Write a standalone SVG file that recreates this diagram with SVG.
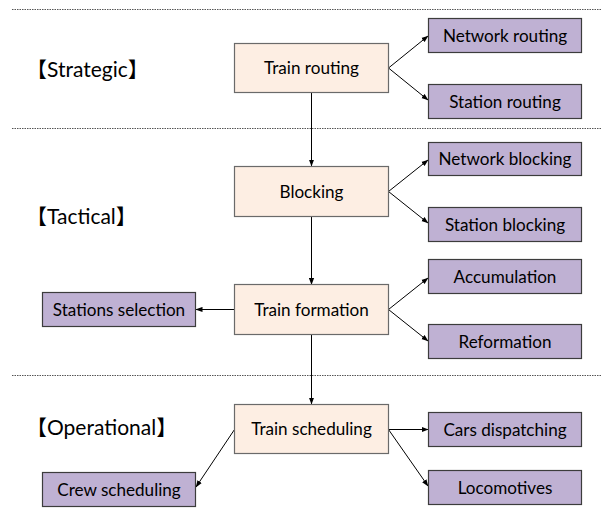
<svg xmlns="http://www.w3.org/2000/svg" width="604" height="513" viewBox="0 0 604 513">
<defs>
<marker id="ah" markerWidth="7" markerHeight="6" refX="6.5" refY="3" orient="auto" markerUnits="userSpaceOnUse">
<path d="M0,0.4 L7,3 L0,5.6 Z" fill="#000"/>
</marker>
<style>
.main rect{fill:#FDEEE3;stroke:#6A6A6A;stroke-width:1.2}
.sub rect{fill:#BFB1D3;stroke:#3C3C3C;stroke-width:1.2}
text{font-family:Lato,"Noto Sans CJK SC",sans-serif;fill:#000}
.t{font-size:17.1px;text-anchor:middle}
.lab{font-size:21px}
.sep{stroke:#555;stroke-width:1;stroke-dasharray:1.5 1;fill:none}
.c line{stroke:#000;stroke-width:1;marker-end:url(#ah)}
</style>
</defs>
<rect width="604" height="513" fill="#fff"/>
<g id="separators">
<line class="sep" x1="12" y1="9.5" x2="602" y2="9.5"/>
<line class="sep" x1="12" y1="128.5" x2="602" y2="128.5"/>
<line class="sep" x1="12" y1="375.5" x2="602" y2="375.5"/>
</g>
<g id="labels">
<text class="lab" x="26" y="77">【Strategic】</text>
<text class="lab" x="26" y="224">【Tactical】</text>
<text class="lab" x="26" y="435">【Operational】</text>
</g>
<g class="c" id="connectors">
<line x1="311.5" y1="93" x2="311.5" y2="166"/>
<line x1="311.5" y1="216.5" x2="311.5" y2="284.5"/>
<line x1="311.5" y1="334.5" x2="311.5" y2="404"/>
<line x1="388.5" y1="68" x2="428" y2="36"/>
<line x1="388.5" y1="68" x2="428" y2="100"/>
<line x1="388.5" y1="191.5" x2="428" y2="160"/>
<line x1="388.5" y1="191.5" x2="428" y2="223"/>
<line x1="388.5" y1="309.5" x2="428" y2="278"/>
<line x1="388.5" y1="309.5" x2="428" y2="341"/>
<line x1="234.5" y1="309.5" x2="196" y2="309.5"/>
<line x1="388.5" y1="429.5" x2="428" y2="429.5"/>
<line x1="388.5" y1="429.5" x2="428" y2="486"/>
<line x1="234.5" y1="429.5" x2="196" y2="487"/>
</g>
<g id="train-routing" class="main"><rect x="234.5" y="43.5" width="154" height="49"/><text class="t" x="311.5" y="74">Train routing</text></g>
<g id="blocking" class="main"><rect x="234.5" y="166.5" width="154" height="50"/><text class="t" x="311.5" y="197.5">Blocking</text></g>
<g id="train-formation" class="main"><rect x="234.5" y="284.5" width="154" height="50"/><text class="t" x="311.5" y="315.5">Train formation</text></g>
<g id="train-scheduling" class="main"><rect x="234.5" y="404.5" width="154" height="49"/><text class="t" x="311.5" y="435">Train scheduling</text></g>
<g id="network-routing" class="sub"><rect x="428.5" y="18.5" width="153" height="34"/><text class="t" x="505" y="41.5">Network routing</text></g>
<g id="station-routing" class="sub"><rect x="428.5" y="84.5" width="153" height="34"/><text class="t" x="505" y="107.5">Station routing</text></g>
<g id="network-blocking" class="sub"><rect x="428.5" y="142.5" width="153" height="33"/><text class="t" x="505" y="165">Network blocking</text></g>
<g id="station-blocking" class="sub"><rect x="428.5" y="207.5" width="153" height="34"/><text class="t" x="505" y="230.5">Station blocking</text></g>
<g id="accumulation" class="sub"><rect x="428.5" y="259.5" width="153" height="34"/><text class="t" x="505" y="282.5">Accumulation</text></g>
<g id="reformation" class="sub"><rect x="428.5" y="324.5" width="153" height="34"/><text class="t" x="505" y="347.5">Reformation</text></g>
<g id="stations-selection" class="sub"><rect x="42.5" y="292.5" width="153" height="34"/><text class="t" x="119" y="315.5">Stations selection</text></g>
<g id="cars-dispatching" class="sub"><rect x="428.5" y="412.5" width="153" height="34"/><text class="t" x="505" y="435.5">Cars dispatching</text></g>
<g id="locomotives" class="sub"><rect x="428.5" y="470.5" width="153" height="34"/><text class="t" x="505" y="493.5">Locomotives</text></g>
<g id="crew-scheduling" class="sub"><rect x="42.5" y="472.5" width="153" height="34"/><text class="t" x="119" y="495.5">Crew scheduling</text></g>
</svg>
